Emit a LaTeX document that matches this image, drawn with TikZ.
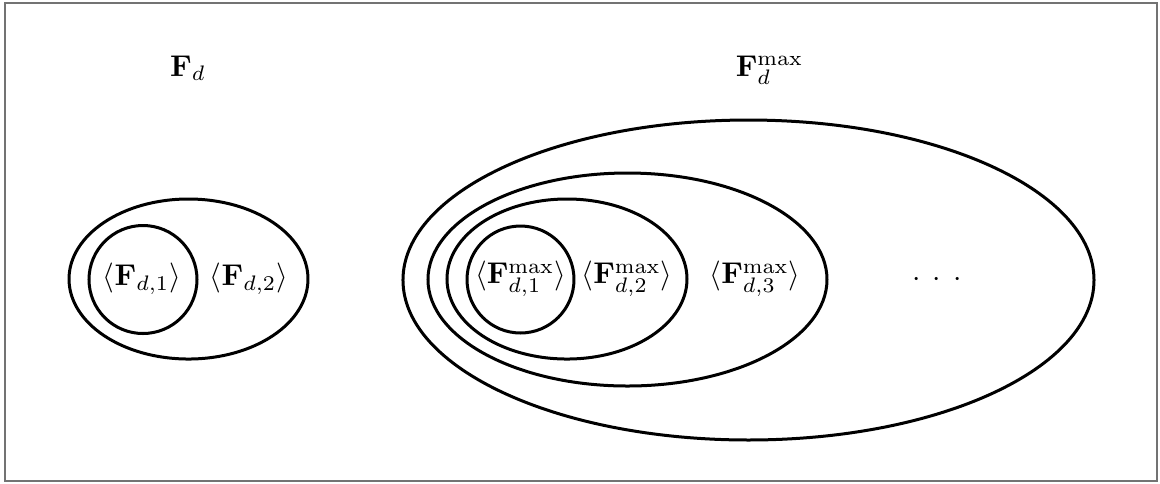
\documentclass[tikz,border=0pt]{standalone}
\usepackage{amsmath}
\tikzset{
  setline/.style={line width=1pt, black},
  frameline/.style={line width=0.6pt, draw=black!55},
  lbl/.style={inner sep=0pt, anchor=center}
}
\begin{document}
\begin{tikzpicture}[x=0.33333pt, y=-0.33333pt]
\useasboundingbox (0,0) rectangle (1160,483);
\draw[frameline] (5,3) rectangle (1157,481);
% left group
\node[lbl, anchor=base] (Fd) at (188,76) {$\mathbf{F}_d$};
\draw[setline] (188.5,279) ellipse [x radius=39.83pt, y radius=26.67pt];
\draw[setline] (143,279.5) circle [radius=18pt];
\node[lbl] (f1) at (142,279) {$\langle \mathbf{F}_{d,1}\rangle$};
\node[lbl] (f2) at (249,279) {$\langle \mathbf{F}_{d,2}\rangle$};
% right group
\node[lbl, anchor=base] (Fdmax) at (769.5,76) {$\mathbf{F}_d^{\max}$};
\draw[setline] (748.5,280) ellipse [x radius=115.17pt, y radius=53.33pt];
\draw[setline] (627.5,279.5) ellipse [x radius=66.5pt, y radius=35.5pt];
\draw[setline] (567,279) ellipse [x radius=40pt, y radius=26.67pt];
\draw[setline] (520.5,279.5) circle [radius=17.83pt];
\node[lbl] (m1) at (520.5,279) {$\langle \mathbf{F}^{\max}_{d,1}\rangle$};
\node[lbl] (m2) at (627,279) {$\langle \mathbf{F}^{\max}_{d,2}\rangle$};
\node[lbl] (m3) at (755,279) {$\langle \mathbf{F}^{\max}_{d,3}\rangle$};
\node[lbl] (dots) at (937,280) {$\mathord{\cdot}\hspace{4pt}\mathord{\cdot}\hspace{4pt}\mathord{\cdot}$};
\end{tikzpicture}
\end{document}
